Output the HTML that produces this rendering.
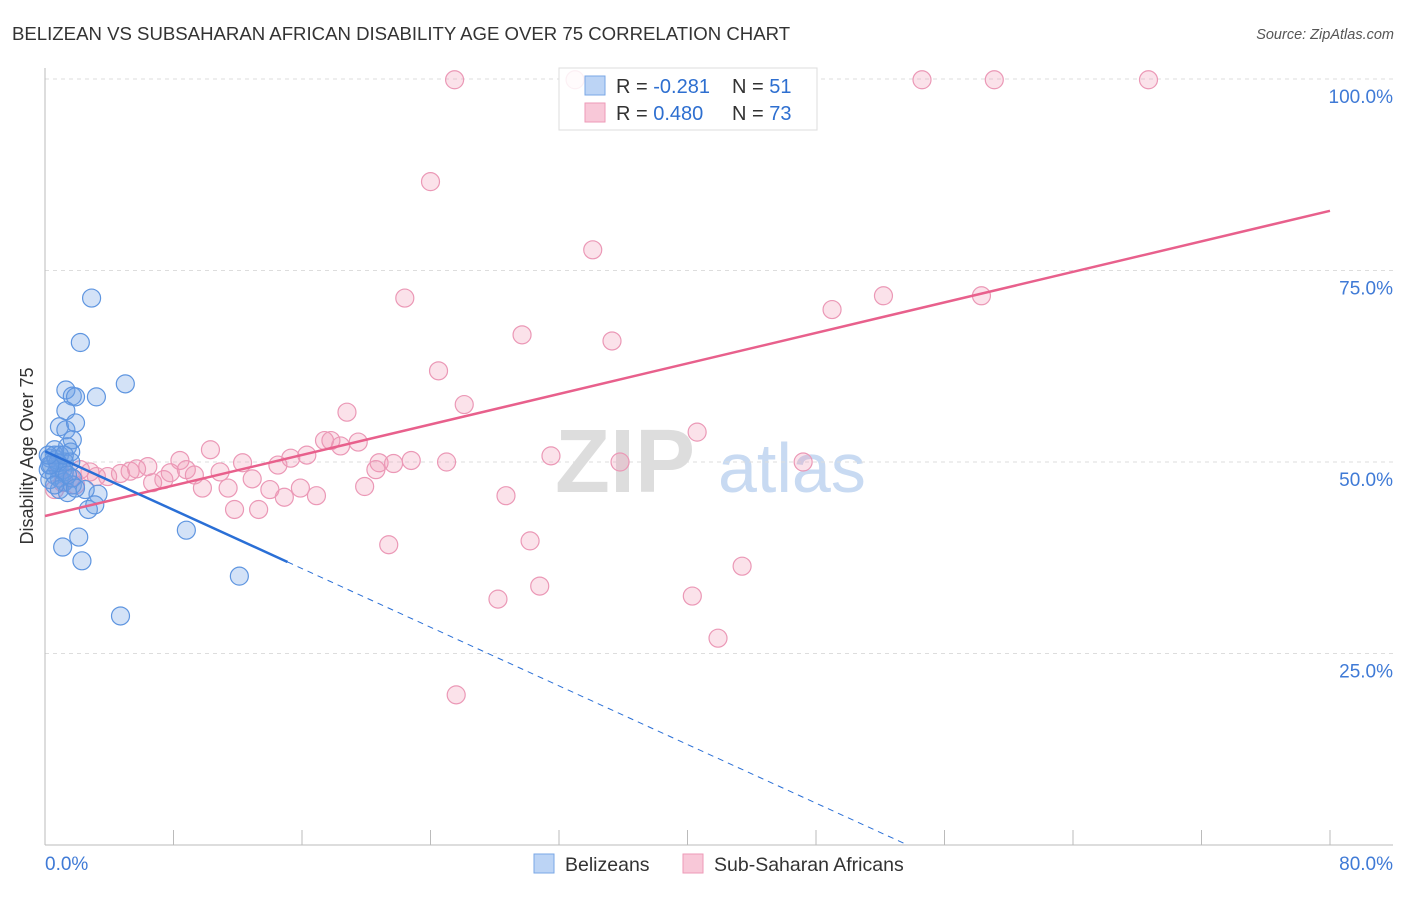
<!DOCTYPE html>
<html><head><meta charset="utf-8"><style>
body{margin:0;background:#fff;font-family:"Liberation Sans",sans-serif}
svg text{font-family:"Liberation Sans",sans-serif}
</style></head><body>
<svg id="c" width="1406" height="892">
<text x="12" y="40" font-size="18.6" fill="#333">BELIZEAN VS SUBSAHARAN AFRICAN DISABILITY AGE OVER 75 CORRELATION CHART</text>
<text x="1394" y="39" font-size="14.5" fill="#555" font-style="italic" text-anchor="end">Source: ZipAtlas.com</text>
<text x="33" y="456" font-size="18" fill="#333" text-anchor="middle" transform="rotate(-90 33 456)">Disability Age Over 75</text>
<text x="555" y="492" font-size="90" fill="#ddd" font-family="Liberation Serif" font-weight="bold">ZIP</text>
<text x="718" y="492" font-size="70" fill="#c8daf2">atlas</text>
<g id="grid"></g>
<g>
<rect x="559" y="68" width="258" height="62" fill="#fff" stroke="#ddd"/>
</g>
<g id="pts"></g><g id="lines"></g>
<g>
<rect x="559" y="68" width="258" height="62" fill="rgba(255,255,255,0.85)" stroke="#ddd"/>
<rect x="585" y="76" width="20" height="19" fill="#bcd4f5" stroke="#7aa7e6"/>
<rect x="585" y="103" width="20" height="19" fill="#f8c8d8" stroke="#ee9ab7"/>
<text x="616" y="93" font-size="20" fill="#333">R = <tspan fill="#2e6fd0">-0.281</tspan></text>
<text x="732" y="93" font-size="20" fill="#333">N = <tspan fill="#2e6fd0"> 51</tspan></text>
<text x="616" y="120" font-size="20" fill="#333">R = <tspan fill="#2e6fd0"> 0.480</tspan></text>
<text x="732" y="120" font-size="20" fill="#333">N = <tspan fill="#2e6fd0">73</tspan></text>
</g>
<g>
<rect x="534" y="854" width="20" height="19" fill="#bcd4f5" stroke="#7aa7e6"/>
<text x="565" y="871" font-size="19.5" fill="#333">Belizeans</text>
<rect x="683" y="854" width="20" height="19" fill="#f8c8d8" stroke="#ee9ab7"/>
<text x="714" y="871" font-size="19.5" fill="#333">Sub-Saharan Africans</text>
</g>
</svg>
<script>
const yTicks=[100,75,50,25];
const yTickLabels=["100.0%","75.0%","50.0%","25.0%"];
const xTickLabels=["0.0%","80.0%"];
const blueX=[2.9,2.2,5.0,1.3,1.7,1.9,3.2,1.3,0.9,1.3,1.9,1.7,1.4,1.6,0.6,0.9,0.3,0.4,0.8,1.1,1.2,1.6,0.2,0.6,0.9,0.3,1.2,1.7,0.9,1.4,3.3,2.5,2.7,3.1,8.8,2.1,1.1,2.3,12.1,4.7,0.7,0.6,1.2,0.8,0.3,1.7,1.4,0.6,1.9,0.2,1.2];
const blueY=[71.4,65.6,60.2,59.4,58.6,58.5,58.5,56.7,54.6,54.2,55.1,52.9,52.0,51.3,51.6,50.9,50.5,49.6,49.2,49.0,50.0,50.0,49.0,48.3,47.9,47.7,47.4,47.0,46.4,46.0,45.8,46.4,43.8,44.4,41.1,40.2,38.9,37.1,35.1,29.9,50.3,50.9,48.7,49.9,49.6,47.9,48.3,47.0,46.6,50.9,50.9];
const pinkX=[25.5,33.0,54.6,59.1,68.7,24.0,34.1,22.4,52.2,58.3,49.0,29.7,35.3,24.5,26.1,18.8,40.6,10.3,17.4,17.8,19.5,18.4,31.5,16.3,15.3,12.3,14.5,20.8,21.7,22.8,25.0,35.8,47.2,8.4,6.4,5.3,5.7,4.7,3.9,3.2,2.8,2.2,1.6,1.1,1.9,7.8,8.8,9.3,10.9,12.9,20.6,6.7,7.4,9.8,11.4,14.0,14.9,15.9,16.9,19.9,28.7,11.8,13.3,21.4,30.2,43.4,30.8,28.2,40.3,41.9,25.6,0.6,0.9];
const pinkY=[99.9,99.9,99.9,99.9,99.9,86.6,77.7,71.4,71.7,71.7,69.9,66.6,65.8,61.9,57.5,56.5,53.9,51.6,52.8,52.8,52.6,52.1,50.8,50.9,50.5,49.9,49.6,49.9,49.8,50.2,50.0,50.0,50.0,50.2,49.4,48.8,49.1,48.5,48.1,48.1,48.7,49.0,47.9,47.3,47.0,48.6,49.0,48.3,48.7,47.8,49.0,47.3,47.7,46.6,46.6,46.4,45.4,46.6,45.6,46.8,45.6,43.8,43.8,39.2,39.7,36.4,33.8,32.1,32.5,27.0,19.6,46.4,49.0];
const blueFit=[51.4,-0.957];
const pinkFit=[42.95,0.498];
const NS="http://www.w3.org/2000/svg";
const X=v=>45+v/80*1285, Y=v=>845-v/100*766;
function mk(t,a,p){const e=document.createElementNS(NS,t);for(const k in a)e.setAttribute(k,a[k]);p.appendChild(e);return e;}
const g=document.getElementById('grid');
yTicks.forEach((t,i)=>{
 const l=mk('line',{x1:45,x2:1393,y1:Y(t),y2:Y(t),stroke:'#ddd','stroke-dasharray':'4 4'},g);
 
 
 const tx=mk('text',{x:1393,y:Y(t)+24,'font-size':19,fill:'#3f7ad6','text-anchor':'end'},g);tx.textContent=yTickLabels[i];
 
 
});
const ax=mk('line',{x1:45,x2:45,y1:68,y2:845,stroke:'#bbb'},g);


const bx=mk('line',{x1:45,x2:1393,y1:845,y2:845,stroke:'#bbb'},g);


for(let k=0;k<=10;k++){const tk=mk('line',{x1:X(k*8),x2:X(k*8),y1:830,y2:845,stroke:'#bbb'},g);
 
 }
[[0,'start',45],[80,'end',1393]].forEach((d,i)=>{const t=mk('text',{x:d[2],y:870,'font-size':19,fill:'#3f7ad6','text-anchor':d[1]},g);t.textContent=xTickLabels[i];
 
 });
const p=document.getElementById('pts');
pinkX.forEach((x,i)=>{const c=mk('circle',{cx:X(x),cy:Y(pinkY[i]),r:9,fill:'rgba(240,150,180,0.28)',stroke:'#eb98b6','stroke-width':1.2},p);
 
 });
blueX.forEach((x,i)=>{const c=mk('circle',{cx:X(x),cy:Y(blueY[i]),r:9,fill:'rgba(110,160,230,0.3)',stroke:'#5e95e0','stroke-width':1.2},p);
 
 });
const L=document.getElementById('lines');
const bf=x=>blueFit[0]+blueFit[1]*x, pf=x=>pinkFit[0]+pinkFit[1]*x;
const pl=mk('line',{x1:X(0),y1:Y(pf(0)),x2:X(80),y2:Y(pf(80)),stroke:'#e8608c','stroke-width':2.5},L);


const xEnd=-blueFit[0]/blueFit[1];
const bs=mk('line',{x1:X(0),y1:Y(bf(0)),x2:X(15.1),y2:Y(bf(15.1)),stroke:'#2a6fd6','stroke-width':2.5},L);


const bd=mk('line',{x1:X(15.1),y1:Y(bf(15.1)),x2:X(xEnd),y2:Y(0),stroke:'#2a6fd6','stroke-width':1,'stroke-dasharray':'6 5'},L);


</script>
</body></html>
